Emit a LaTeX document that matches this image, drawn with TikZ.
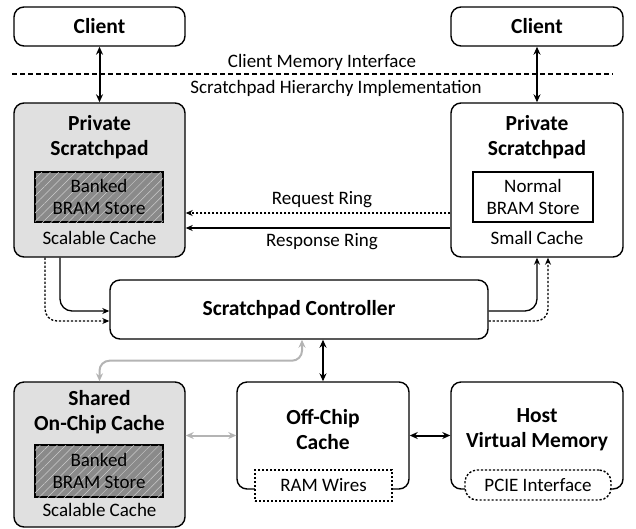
\documentclass[tikz,border=0pt]{standalone}
\usepackage{fontspec}
\setmainfont{Carlito}
\usetikzlibrary{arrows.meta,calc,patterns.meta}

\definecolor{boxgray}{HTML}{E0E0E0}
\definecolor{hatchgray}{HTML}{8A8A8A}
\definecolor{linkgray}{HTML}{B4B4B4}

\tikzset{
  box/.style={draw,line width=1.4pt,rounded corners=10pt,inner sep=0pt},
  store/.style={draw,line width=1.4pt,inner sep=0pt},
  banked/.style={store,fill=hatchgray,
    postaction={pattern={Lines[angle=45,distance=6pt,line width=0.5pt]},pattern color=gray!40}},
  title/.style={font=\bfseries\fontsize{21.5}{25}\selectfont,align=center},
  txt/.style={font=\fontsize{19}{22.5}\selectfont,align=center},
  dots/.style={dash pattern=on 2.2pt off 1.8pt},
  link/.style={line width=1.3pt,-{Stealth[length=7pt,width=6pt]}},
  biglink/.style={line width=2pt,{Stealth[length=8pt,width=7pt]}-{Stealth[length=8pt,width=7pt]}},
  graylink/.style={biglink,linkgray},
}

\begin{document}
\begin{tikzpicture}[x=1pt,y=-1pt]
  \useasboundingbox (0,0) rectangle (636,528);

  % clients
  \node[box,title,minimum width=171pt,minimum height=39pt] (cliL) at (99.5,26.5) {Client};
  \node[box,title,minimum width=172pt,minimum height=39pt] (cliR) at (537,26.5) {Client};

  % interface line
  \coordinate (divL) at (12,74);
  \coordinate (divR) at (613,74);
  \draw[line width=1.4pt,dash pattern=on 5pt off 3pt] (divL) -- (divR);
  \node[txt] (cmi) at (322,62) {Client Memory Interface};
  \node[txt] (shi) at (336,88) {Scratchpad Hierarchy Implementation};

  % private scratchpads
  \node[box,fill=boxgray,minimum width=171pt,minimum height=154pt] (psL) at (99.5,180) {};
  \node[title] (psLt) at (99.5,137) {Private\\Scratchpad};
  \node[banked,txt,minimum width=128pt,minimum height=50pt] (bankL) at (99,197) {Banked\\BRAM Store};
  \node[txt] (scL) at (99.5,238) {Scalable Cache};

  \node[box,minimum width=172pt,minimum height=154pt] (psR) at (537,180) {};
  \node[title] (psRt) at (537,137) {Private\\Scratchpad};
  \node[store,txt,minimum width=120pt,minimum height=50pt] (normal) at (533,197) {Normal\\BRAM Store};
  \node[txt] (smR) at (537,238) {Small Cache};

  \draw[biglink] (cliL) -- (psL);
  \draw[biglink] (cliR) -- (psR);

  % rings
  \draw[link,dots] ($(psR.west)+(0,33)$) -- ($(psL.east)+(0,33)$);
  \draw[link] ($(psR.west)+(0,48)$) -- ($(psL.east)+(0,48)$);
  \node[txt] (reqt) at (322,200) {Request Ring};
  \node[txt] (rest) at (322,242) {Response Ring};

  % controller
  \node[box,title,minimum width=378pt,minimum height=59pt] (ctrl) at (299,309.5) {Scratchpad Controller};

  \draw[link,rounded corners=12pt] ($(psL.south)+(-39.5,0)$) |- ($(ctrl.west)+(0,1.5)$);
  \draw[link,dots,rounded corners=12pt] ($(psL.south)+(-54.5,0)$) |- ($(ctrl.west)+(0,11.5)$);
  \draw[link,rounded corners=12pt] ($(ctrl.east)+(0,1.5)$) -| (psR.south);
  \draw[link,dots,rounded corners=12pt] ($(ctrl.east)+(0,11.5)$) -| ($(psR.south)+(11,0)$);

  % lower level
  \node[box,fill=boxgray,minimum width=171pt,minimum height=145pt] (shared) at (99.5,454.5) {};
  \node[title] (sharedt) at (99.5,412) {Shared\\On-Chip Cache};
  \node[banked,txt,minimum width=128pt,minimum height=52pt] (bankS) at (99,471) {Banked\\BRAM Store};
  \node[txt] (scS) at (99.5,510) {Scalable Cache};

  \node[box,minimum width=172pt,minimum height=107pt] (offchip) at (323,435.5) {};
  \node[title] (offt) at (323,430) {Off-Chip\\Cache};
  \node[store,dots,fill=white,txt,minimum width=137pt,minimum height=31pt] (ram) at (323.5,485.5) {RAM Wires};

  \node[box,minimum width=172pt,minimum height=107pt] (host) at (537,435.5) {};
  \node[title] (hostt) at (537,430) {Host\\Virtual Memory};
  \node[box,dots,fill=white,txt,rounded corners=12pt,minimum width=146pt,minimum height=30pt] (pcie) at (538,485) {PCIE Interface};

  \draw[biglink] (offchip.north |- ctrl.south) -- (offchip.north);
  \draw[graylink,rounded corners=10pt] ($(ctrl.south)+(3,0)$) -- ++(0,21) -| (shared.north);
  \draw[graylink] (offchip.west -| shared.east) -- (offchip.west);
  \draw[biglink] (offchip.east) -- (host.west);
\end{tikzpicture}
\end{document}
